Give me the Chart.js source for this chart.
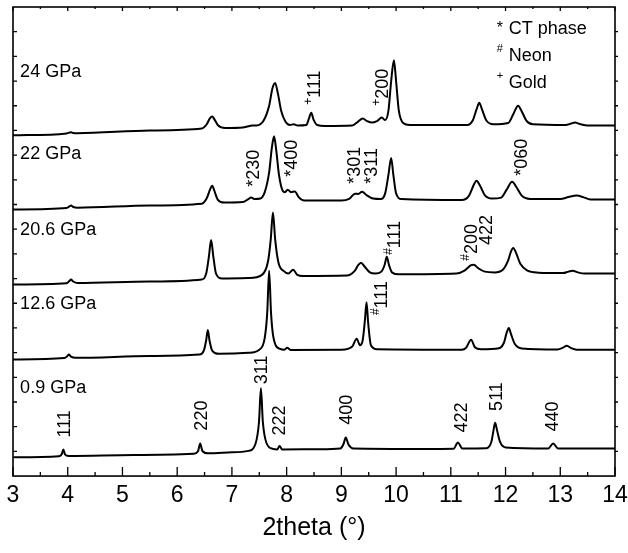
<!DOCTYPE html>
<html>
<head>
<meta charset="utf-8">
<script src="https://cdn.jsdelivr.net/npm/chart.js@4.4.1/dist/chart.umd.min.js"></script>
<style>
  html, body { margin: 0; padding: 0; background: #fff; }
</style>
</head>
<body>
<canvas id="xrd" width="628" height="553"></canvas>
<script>
// 2theta / intensity pairs, one list per pressure (offset already included)
const p09 = [[3.0,0.76],
  [3.84,0.80],[3.89,0.88],[3.92,1.08],[3.95,0.88],[4.02,0.81],
  [5.2,0.85],
  [6.30,0.90],[6.38,1.0],[6.42,1.32],[6.46,1.02],[6.56,0.92],
  [7.0,0.96],
  [7.3,1.02],[7.43,1.3],[7.495,2.2],[7.53,3.56],[7.565,2.2],[7.63,1.35],[7.75,1.1],
  [7.83,1.08],[7.87,1.22],[7.92,1.08],
  [8.6,1.09],
  [8.98,1.12],[9.04,1.3],[9.08,1.56],[9.13,1.28],[9.22,1.12],
  [10.5,1.1],
  [11.05,1.11],[11.13,1.36],[11.21,1.12],
  [11.65,1.13],[11.74,1.38],[11.78,1.85],[11.81,2.16],[11.85,1.8],[11.9,1.38],[12.0,1.16],
  [12.78,1.12],[12.87,1.32],[12.96,1.12],
  [14.0,1.12]];

const p126 = [[3.0,4.72],
  [3.94,4.78],[3.99,4.85],[4.02,4.92],[4.06,4.84],[4.14,4.79],
  [5.5,4.86],
  [6.40,4.92],[6.49,5.1],[6.53,5.5],[6.56,5.92],[6.59,5.5],[6.64,5.08],[6.76,4.95],
  [7.3,4.99],
  [7.5,5.12],[7.6,5.6],[7.645,6.6],[7.68,8.32],[7.715,6.6],[7.76,5.6],[7.88,5.15],
  [7.96,5.12],[8.01,5.2],[8.07,5.11],
  [9.0,5.12],
  [9.2,5.25],[9.28,5.56],[9.34,5.3],[9.39,5.5],[9.43,6.3],[9.46,7.04],[9.49,6.2],[9.54,5.3],[9.65,5.14],
  [11.2,5.12],
  [11.28,5.2],[11.37,5.52],[11.44,5.22],[11.55,5.14],
  [11.88,5.18],[11.97,5.4],[12.02,5.8],[12.06,6.0],[12.1,5.75],[12.17,5.35],[12.3,5.17],
  [12.95,5.13],[13.05,5.2],[13.12,5.28],[13.2,5.18],[13.3,5.12],
  [14.0,5.12]];

const p206 = [[3.0,7.76],
  [3.98,7.81],[4.03,7.9],[4.06,7.96],[4.1,7.88],[4.18,7.82],
  [5.5,7.88],
  [6.45,7.96],[6.53,8.2],[6.58,8.9],[6.62,9.56],[6.66,8.9],[6.71,8.2],[6.82,8.0],
  [7.3,8.02],
  [7.55,8.15],[7.66,8.7],[7.71,9.6],[7.75,10.68],[7.79,9.6],[7.85,8.65],[7.95,8.3],[8.03,8.2],[8.12,8.36],[8.19,8.16],[8.3,8.1],
  [9.1,8.12],[9.24,8.3],[9.31,8.55],[9.36,8.64],[9.42,8.5],[9.52,8.25],[9.62,8.2],
  [9.73,8.28],[9.79,8.55],[9.83,8.88],[9.87,8.55],[9.93,8.24],[10.05,8.17],
  [11.1,8.2],[11.25,8.32],[11.37,8.54],[11.42,8.56],[11.5,8.42],[11.62,8.28],[11.8,8.25],
  [11.95,8.36],[12.05,8.75],[12.1,9.1],[12.14,9.24],[12.19,9.05],[12.27,8.6],[12.4,8.32],[12.6,8.24],
  [13.05,8.22],[13.15,8.28],[13.23,8.32],[13.32,8.25],[13.45,8.2],
  [14.0,8.2]];

const p22 = [[3.0,10.8],
  [3.98,10.86],[4.03,10.92],[4.06,10.96],[4.1,10.9],[4.18,10.87],
  [5.5,10.96],
  [6.45,11.03],[6.54,11.25],[6.6,11.6],[6.64,11.76],[6.68,11.55],[6.74,11.2],[6.86,11.08],
  [7.2,11.1],[7.3,11.22],[7.35,11.28],[7.42,11.22],[7.52,11.24],
  [7.6,11.5],[7.68,12.3],[7.73,13.3],[7.77,13.76],[7.81,13.2],[7.86,12.2],[7.93,11.55],[7.97,11.5],
  [8.02,11.6],[8.08,11.5],[8.15,11.53],[8.22,11.3],[8.32,11.16],
  [9.0,11.16],[9.15,11.24],[9.25,11.44],[9.31,11.43],[9.38,11.52],[9.46,11.38],[9.58,11.24],[9.72,11.22],
  [9.8,11.45],[9.86,12.2],[9.91,12.88],[9.95,12.2],[10.0,11.45],[10.1,11.22],
  [11.2,11.18],[11.33,11.35],[11.42,11.8],[11.47,11.96],[11.53,11.78],[11.62,11.38],[11.75,11.24],
  [11.92,11.28],[12.02,11.6],[12.12,11.92],[12.2,11.7],[12.3,11.35],[12.45,11.22],
  [13.0,11.22],[13.15,11.3],[13.3,11.36],[13.42,11.3],[13.55,11.2],
  [14.0,11.2]];

const p24 = [[3.0,13.8],
  [3.98,13.88],[4.03,13.91],[4.06,13.93],[4.1,13.9],[4.18,13.89],
  [5.5,14.0],
  [6.45,14.08],[6.54,14.25],[6.6,14.5],[6.64,14.56],[6.68,14.45],[6.75,14.2],[6.88,14.1],
  [7.2,14.12],[7.3,14.17],[7.37,14.2],[7.45,14.2],
  [7.58,14.4],[7.68,15.0],[7.74,15.7],[7.79,15.92],[7.84,15.5],[7.9,14.8],[7.98,14.35],[8.06,14.22],
  [8.13,14.25],[8.2,14.2],
  [8.36,14.22],[8.41,14.5],[8.45,14.72],[8.49,14.45],[8.56,14.22],[8.7,14.18],
  [9.2,14.2],[9.3,14.35],[9.39,14.48],[9.47,14.38],[9.56,14.32],[9.65,14.38],[9.74,14.52],[9.8,14.42],
  [9.86,14.8],[9.91,16.0],[9.96,16.84],[10.0,16.0],[10.05,14.8],[10.13,14.3],[10.25,14.22],
  [11.3,14.22],[11.4,14.4],[11.47,14.85],[11.52,15.12],[11.57,14.85],[11.65,14.4],[11.78,14.25],
  [12.05,14.3],[12.15,14.7],[12.23,15.0],[12.29,14.8],[12.38,14.4],[12.5,14.25],
  [13.1,14.22],[13.2,14.28],[13.27,14.32],[13.36,14.26],[13.5,14.2],
  [14.0,14.2]];

const traces = [p09, p126, p206, p22, p24];

// pressure labels
const pressText = ['0.9 GPa', '12.6 GPa', '20.6 GPa', '22 GPa', '24 GPa'];
const pressY = [3.56, 6.96, 9.96, 13.04, 16.36];

// peak labels (rotated), marker: * CT phase, # Neon, + Gold
const hklText = ['111','220','311','222','400','422','511','440',
                 '111',
                 '111','200','422',
                 '230','400','301','311','060',
                 '111','200'];
const hklMark = ['','','','','','','','',
                 '#',
                 '#','#','',
                 '*','*','*','*','*',
                 '+','+'];
const hklX = [3.95,6.45,7.55,7.88,9.10,11.2,11.84,12.87,
              9.74,
              9.98,11.39,11.66,
              7.40,8.10,9.25,9.56,12.3,
              8.52,9.76];
const hklY = [1.56,1.84,3.72,1.64,2.08,1.76,2.64,1.8,
              6.52,
              8.96,8.72,9.36,
              11.72,12.12,11.84,11.84,12.16,
              15.04,15.0];

const legendMark = ['*', '#', '+'];
const legendText = ['CT phase', 'Neon', 'Gold'];

const FONT = "'Liberation Sans', Arial, sans-serif";

const framePlugin = {
  id: 'frame',
  afterDraw(chart) {
    const ctx = chart.ctx, a = chart.chartArea;
    const xs = chart.scales.x, ys = chart.scales.y;
    ctx.save();
    ctx.strokeStyle = '#000';
    ctx.lineWidth = 1.6;
    ctx.strokeRect(a.left, a.top, a.right - a.left, a.bottom - a.top);
    ctx.lineWidth = 1.3;
    ctx.beginPath();
    for (let v = 3; v <= 14.001; v += 0.5) {
      const px = xs.getPixelForValue(v);
      const major = Math.abs(v - Math.round(v)) < 0.01;
      ctx.moveTo(px, a.bottom); ctx.lineTo(px, a.bottom - (major ? 9 : 4));
      ctx.moveTo(px, a.top); ctx.lineTo(px, a.top + (major ? 4 : 2));
    }
    for (let v = 1; v < 19; v++) {
      const py = ys.getPixelForValue(v);
      ctx.moveTo(a.left, py); ctx.lineTo(a.left + 4, py);
      ctx.moveTo(a.right, py); ctx.lineTo(a.right + 3, py);
    }
    ctx.stroke();
    ctx.restore();
  }
};

const labelPlugin = {
  id: 'labels',
  afterDatasetsDraw(chart) {
    const ctx = chart.ctx;
    const xs = chart.scales.x, ys = chart.scales.y;
    ctx.save();
    ctx.fillStyle = '#000';
    ctx.textBaseline = 'middle';
    ctx.textAlign = 'left';

    ctx.font = '18px ' + FONT;
    pressText.forEach((t, i) => {
      ctx.fillText(t, xs.getPixelForValue(3.13), ys.getPixelForValue(pressY[i]));
    });

    // legend
    const legY = [18.12, 17.0, 15.92];
    legendText.forEach((t, i) => {
      const py = ys.getPixelForValue(legY[i]);
      ctx.font = '18px ' + FONT;
      ctx.fillText(t, xs.getPixelForValue(12.06), py);
      ctx.font = (legendMark[i] === '*' ? '16px ' : '11px ') + FONT;
      ctx.fillText(legendMark[i], xs.getPixelForValue(11.84), py - (legendMark[i] === '*' ? 0 : 7));
    });

    // rotated peak labels
    hklText.forEach((t, i) => {
      ctx.save();
      ctx.translate(xs.getPixelForValue(hklX[i]), ys.getPixelForValue(hklY[i]));
      ctx.rotate(-Math.PI / 2);
      let off = 0;
      const m = hklMark[i];
      if (m === '*') {
        ctx.font = '18px ' + FONT;
        ctx.fillText(m, 0, 0);
        off = ctx.measureText(m).width;
      } else if (m) {
        ctx.font = '12px ' + FONT;
        ctx.fillText(m, 0, -6);
        off = ctx.measureText(m).width;
      }
      ctx.font = '18px ' + FONT;
      ctx.fillText(t, off, 0);
      ctx.restore();
    });
    ctx.restore();
  }
};

new Chart(document.getElementById('xrd'), {
  type: 'line',
  data: {
    datasets: traces.map(t => ({
      data: t.map(p => ({ x: p[0], y: p[1] })),
      borderColor: '#000',
      borderWidth: 2,
      pointRadius: 0,
      fill: false,
      cubicInterpolationMode: 'monotone'
    }))
  },
  options: {
    responsive: false,
    animation: false,
    layout: { padding: { left: 13, right: 13, top: 7, bottom: 11 } },
    plugins: { legend: { display: false }, tooltip: { enabled: false } },
    scales: {
      x: {
        type: 'linear', min: 3, max: 14,
        afterFit(scale) { scale.paddingLeft = 0; scale.paddingRight = 0; },
        ticks: { stepSize: 1, color: '#000', font: { size: 23, family: FONT, lineHeight: 1.15 }, padding: 6, maxRotation: 0 },
        grid: { display: false, drawTicks: false },
        border: { display: false },
        title: { display: true, text: '2theta (°)', color: '#000', font: { size: 25, family: FONT, lineHeight: 1.1 }, padding: { top: 0, bottom: 0 } }
      },
      y: { display: false, min: 0, max: 19 }
    }
  },
  plugins: [framePlugin, labelPlugin]
});
</script>
</body>
</html>
